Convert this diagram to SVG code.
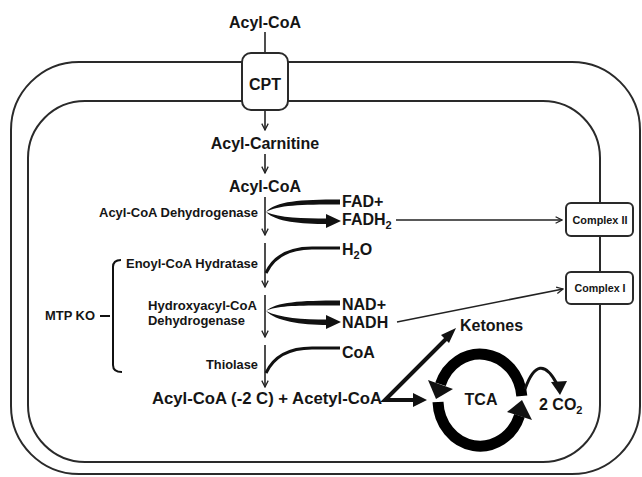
<svg xmlns="http://www.w3.org/2000/svg" width="642" height="477" viewBox="0 0 642 477">
<defs>
<style>
text{font-family:"Liberation Sans",Arial,sans-serif;font-weight:bold;fill:#151515}
.big{font-size:16px}
.mid{font-size:12.5px}
.sm{font-size:10.5px}
.mem{fill:none;stroke:#2a2a2a;stroke-width:2}
.thin{fill:none;stroke:#222;stroke-width:1.6}
.thick{fill:none;stroke:#111;stroke-width:4}
.cur{fill:none;stroke:#111;stroke-width:3}
.head{fill:#111;stroke:none}
.box{fill:#fff;stroke:#2a2a2a;stroke-width:2}
</style>
<marker id="chev" viewBox="0 0 10 10" refX="9" refY="5" markerWidth="8" markerHeight="8" markerUnits="userSpaceOnUse" orient="auto">
<polyline points="1,1 9,5 1,9" fill="none" stroke="#222" stroke-width="1.6"/>
</marker>
</defs>
<rect width="642" height="477" fill="#fff"/>
<g id="membranes">
<rect class="mem" x="11" y="62" width="629" height="412" rx="68" ry="68"/>
<rect class="mem" x="28" y="101" width="572" height="361" rx="57" ry="57"/>
</g>
<g id="connectors">
<line class="thin" x1="265" y1="32" x2="265" y2="54"/>
<line class="thin" x1="265" y1="110" x2="265" y2="130" marker-end="url(#chev)"/>
<line class="thin" x1="265" y1="154" x2="265" y2="173" marker-end="url(#chev)"/>
<line class="thin" x1="265" y1="197" x2="265" y2="235" marker-end="url(#chev)"/>
<line class="thin" x1="265" y1="243" x2="265" y2="287" marker-end="url(#chev)"/>
<line class="thin" x1="265" y1="295" x2="265" y2="337" marker-end="url(#chev)"/>
<line class="thin" x1="265" y1="345" x2="265" y2="387" marker-end="url(#chev)"/>
<path class="head" d="M340,199.5 C300,199.5 276,201 266,212 C278,205 300,204.5 340,204.5 Z"/>
<path class="head" d="M266,212 C276,222 300,224 328,224 L328,218.5 C302,218.5 280,218 266,212 Z"/>
<polygon class="head" points="326,214 341,221 326,228"/>
<path class="cur" d="M340,248 L312,248 C290,248 274,256 266,273"/>
<path class="head" d="M340,300.5 C300,300.5 276,302 266,311 C278,305 300,305.5 340,305.5 Z"/>
<path class="head" d="M266,311 C276,321 300,325 328,325 L328,319.5 C302,319.5 280,318 266,311 Z"/>
<polygon class="head" points="326,315 341,322 326,329"/>
<path class="cur" d="M340,348 L312,348 C290,348 274,356 266,373"/>
<line class="thin" x1="396" y1="220" x2="562" y2="220" marker-end="url(#chev)"/>
<line class="thin" x1="397" y1="322" x2="563" y2="289" marker-end="url(#chev)"/>
<path class="thick" d="M447,338 L385,400 L414,400"/>
<polygon class="head" points="441,335 456,328 449,343"/>
<polygon class="head" points="413,393 427,400 413,407"/>
<path fill="none" stroke="#000" stroke-width="11" d="M521.8,396 A42,46 0 0 0 440.5,384.3"/>
<polygon class="head" points="453,389 436,399 428,380"/>
<path fill="none" stroke="#000" stroke-width="11" d="M438,402 A42,46 0 0 0 519.5,415.7"/>
<polygon class="head" points="507,412 522,400 532,420"/>
<path class="cur" d="M525,389 Q539,350 557,384"/>
<polygon class="head" points="551,382 567,381 560,395"/>
<path fill="none" stroke="#111" stroke-width="2" d="M100,316 L110,316 M121,260 Q113,260 113,267 L113,365 Q113,372 122,372"/>
</g>
<g id="cpt"><rect class="box" x="242" y="53" width="46" height="57" rx="9"/><text class="big" x="265" y="90" text-anchor="middle">CPT</text></g>
<g id="acylcoa-top"><text class="big" x="265" y="28" text-anchor="middle">Acyl-CoA</text></g>
<g id="acylcarnitine"><text class="big" x="265" y="149" text-anchor="middle">Acyl-Carnitine</text></g>
<g id="acylcoa"><text class="big" x="265" y="192" text-anchor="middle">Acyl-CoA</text></g>
<g id="acad"><text class="mid" x="99" y="217" textLength="159" lengthAdjust="spacingAndGlyphs">Acyl-CoA Dehydrogenase</text></g>
<g id="fad"><text class="big" x="342" y="207">FAD+</text></g>
<g id="fadh2"><text class="big" x="342" y="225">FADH<tspan font-size="11" dy="4">2</tspan></text></g>
<g id="h2o"><text class="big" x="342" y="255">H<tspan font-size="11" dy="4">2</tspan><tspan dy="-4">O</tspan></text></g>
<g id="echs"><text class="mid" x="126" y="268" textLength="132" lengthAdjust="spacingAndGlyphs">Enoyl-CoA Hydratase</text></g>
<g id="hadh"><text class="mid" x="148" y="310" textLength="109" lengthAdjust="spacingAndGlyphs">Hydroxyacyl-CoA</text><text class="mid" x="148" y="325" textLength="97" lengthAdjust="spacingAndGlyphs">Dehydrogenase</text></g>
<g id="nad"><text class="big" x="342" y="310">NAD+</text></g>
<g id="nadh"><text class="big" x="342" y="328">NADH</text></g>
<g id="thiolase"><text class="mid" x="206" y="369" textLength="52" lengthAdjust="spacingAndGlyphs">Thiolase</text></g>
<g id="coa"><text class="big" x="342" y="358">CoA</text></g>
<g id="mtpko"><text class="mid" x="45" y="320" textLength="50" lengthAdjust="spacingAndGlyphs">MTP KO</text></g>
<g id="products"><text class="big" x="152" y="404" textLength="230" lengthAdjust="spacingAndGlyphs">Acyl-CoA (-2 C) + Acetyl-CoA</text></g>
<g id="ketones"><text class="big" x="460" y="331">Ketones</text></g>
<g id="tca"><text class="big" x="481" y="405" text-anchor="middle">TCA</text></g>
<g id="co2"><text class="big" x="539" y="410">2 CO<tspan font-size="11" dy="4">2</tspan></text></g>
<g id="complex2"><rect class="box" x="566" y="203" width="67" height="33" rx="5"/><text class="sm" x="600" y="224" text-anchor="middle" textLength="55" lengthAdjust="spacingAndGlyphs">Complex II</text></g>
<g id="complex1"><rect class="box" x="566" y="272" width="67" height="32" rx="5"/><text class="sm" x="600" y="292" text-anchor="middle" textLength="51" lengthAdjust="spacingAndGlyphs">Complex I</text></g>
</svg>
